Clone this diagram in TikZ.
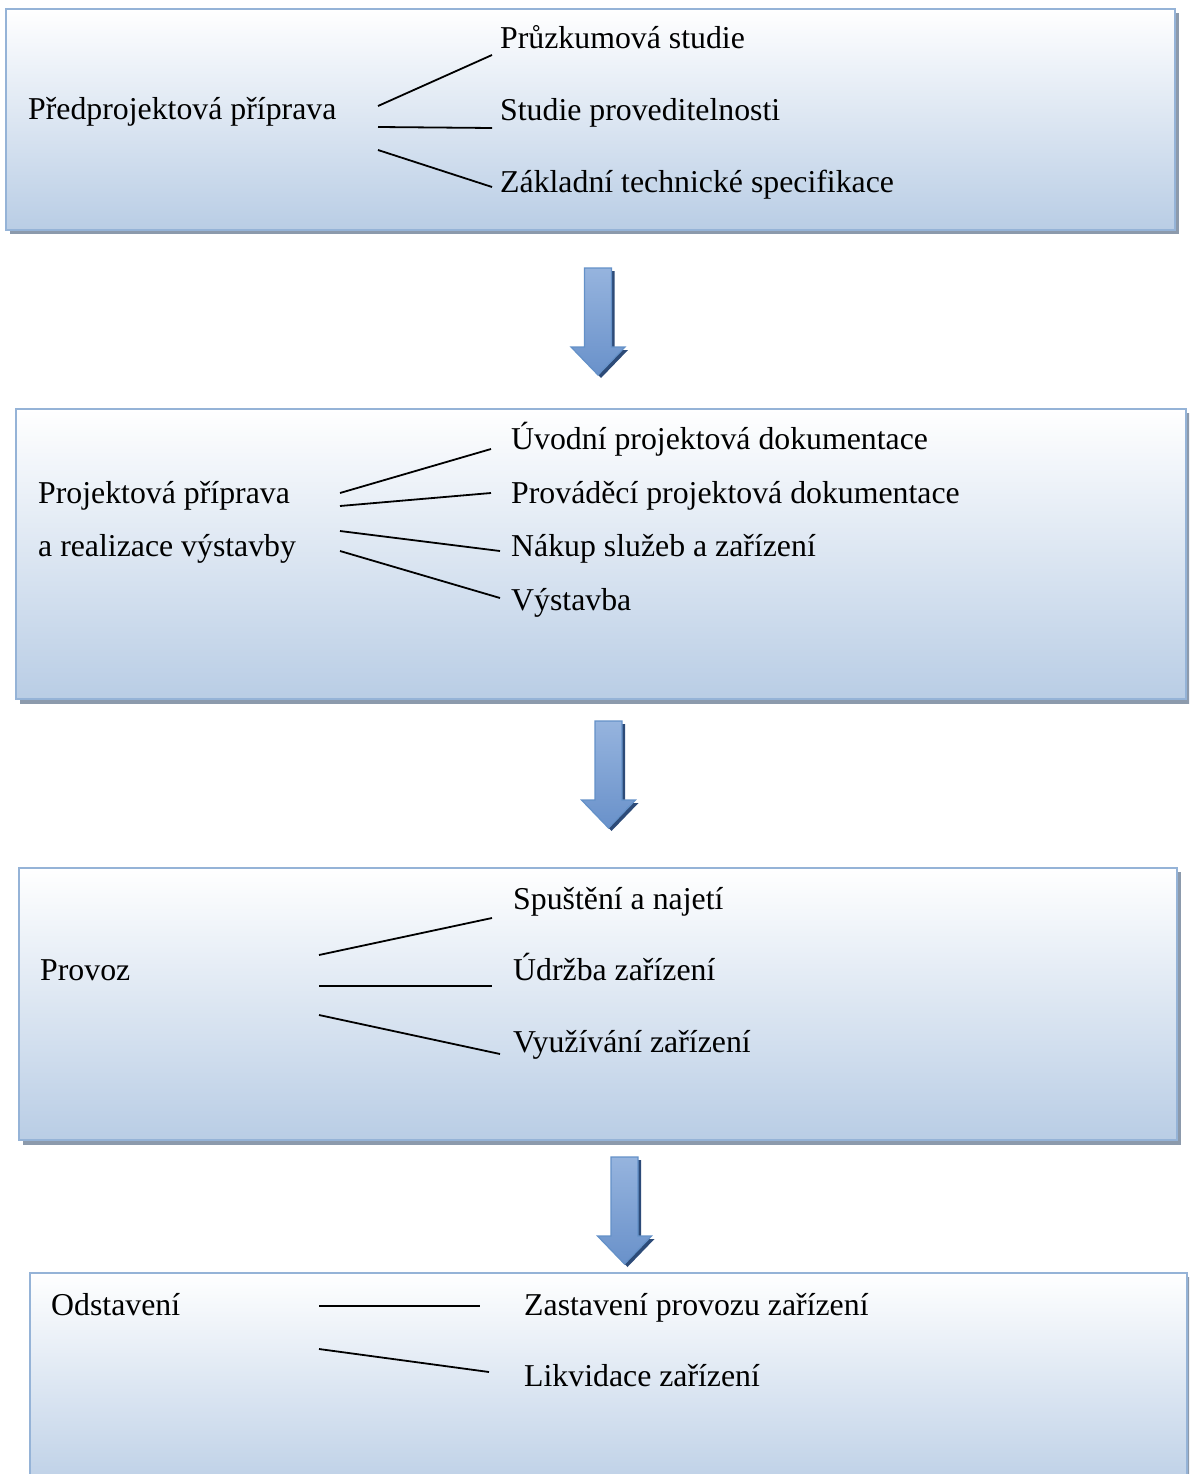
\documentclass[tikz,border=0pt]{standalone}
\usepackage{fontspec}
\setmainfont{Liberation Serif}
\definecolor{boxline}{RGB}{149,179,215}
\definecolor{boxbot}{RGB}{185,205,229}
\definecolor{boxshadow}{RGB}{140,154,172}
\definecolor{arrmid}{RGB}{79,129,189}
\definecolor{arrlight}{RGB}{150,180,222}
\definecolor{arrhead}{RGB}{105,145,202}
\definecolor{arrline}{RGB}{100,145,200}
\definecolor{arrshadow}{RGB}{45,75,120}
\tikzset{
  stagebox/.style={top color=white, bottom color=boxbot, draw=boxline, line width=2.5pt},
  boxshade/.style={fill=boxshadow},
  lbl/.style={anchor=base west, inner sep=0pt, font=\fontsize{31.8}{38}\selectfont},
  link/.style={line width=1.8pt, black},
  blockarrow/.style={top color=arrlight, middle color=arrmid, bottom color=arrhead, draw=arrline, line width=1.2pt, line join=miter},
  arrowshadow/.style={fill=arrshadow},
}
\newcommand\stagearrow[2]{%
  \fill[arrowshadow] (#1-13.5+3,#2+3) -- (#1+13.5+3,#2+3) -- (#1+13.5+3,#2+79+3) -- (#1+27+3,#2+79+3) -- (#1+3,#2+107+3) -- (#1-27+3,#2+79+3) -- (#1-13.5+3,#2+79+3) -- cycle;
  \path[blockarrow] (#1-13.5,#2) -- (#1+13.5,#2) -- (#1+13.5,#2+79) -- (#1+27,#2+79) -- (#1,#2+107) -- (#1-27,#2+79) -- (#1-13.5,#2+79) -- cycle;
}
\begin{document}
\begin{tikzpicture}[x=1pt,y=-1pt]
\useasboundingbox (0,0) rectangle (1189,1474);
\clip (0,0) rectangle (1189,1474);

% shadows of boxes
\fill[boxshade] (10,13) rectangle (1179,234);
\fill[boxshade] (20,413) rectangle (1190,704);
\fill[boxshade] (23,872) rectangle (1181,1145);
\fill[boxshade] (34,1277) rectangle (1191,1510);

% boxes
\path[stagebox] (6,9) rectangle (1175,230);
\path[stagebox] (16,409) rectangle (1186,699);
\path[stagebox] (19,868) rectangle (1177,1140);
\path[stagebox] (30,1273) rectangle (1187,1500);

% arrows
\stagearrow{598}{268}
\stagearrow{608.5}{721}
\stagearrow{624.5}{1157}

% box 1
\node[lbl] (p1) at (28,120) {Předprojektová příprava};
\node[lbl] (p1a) at (500,49) {Průzkumová studie};
\node[lbl] (p1b) at (500,121) {Studie proveditelnosti};
\node[lbl] (p1c) at (500,193) {Základní technické specifikace};
\coordinate (l1s1) at (378,106); \coordinate (l1e1) at (492,55);
\coordinate (l1s2) at (378,127); \coordinate (l1e2) at (492,128);
\coordinate (l1s3) at (378,150); \coordinate (l1e3) at (492,187);
\draw[link] (l1s1) -- (l1e1);
\draw[link] (l1s2) -- (l1e2);
\draw[link] (l1s3) -- (l1e3);

% box 2
\node[lbl] (p2) at (38,503) {Projektová příprava};
\node[lbl] (p2x) at (38,556) {a realizace výstavby};
\node[lbl] (p2a) at (511,449) {Úvodní projektová dokumentace};
\node[lbl] (p2b) at (511,503) {Prováděcí projektová dokumentace};
\node[lbl] (p2c) at (511,556) {Nákup služeb a zařízení};
\node[lbl] (p2d) at (511,610) {Výstavba};
\coordinate (l2s1) at (340,493); \coordinate (l2e1) at (491,449);
\coordinate (l2s2) at (340,506); \coordinate (l2e2) at (491,493);
\coordinate (l2s3) at (340,531); \coordinate (l2e3) at (500,551);
\coordinate (l2s4) at (340,551); \coordinate (l2e4) at (500,598);
\draw[link] (l2s1) -- (l2e1);
\draw[link] (l2s2) -- (l2e2);
\draw[link] (l2s3) -- (l2e3);
\draw[link] (l2s4) -- (l2e4);

% box 3
\node[lbl] (p3) at (40,980) {Provoz};
\node[lbl] (p3a) at (513,909) {Spuštění a najetí};
\node[lbl] (p3b) at (513,980) {Údržba zařízení};
\node[lbl] (p3c) at (513,1052) {Využívání zařízení};
\coordinate (l3s1) at (319,955); \coordinate (l3e1) at (492,918);
\coordinate (l3s2) at (319,986); \coordinate (l3e2) at (492,986);
\coordinate (l3s3) at (319,1015); \coordinate (l3e3) at (500,1054);
\draw[link] (l3s1) -- (l3e1);
\draw[link] (l3s2) -- (l3e2);
\draw[link] (l3s3) -- (l3e3);

% box 4
\node[lbl] (p4) at (51,1315) {Odstavení};
\node[lbl] (p4a) at (524,1315) {Zastavení provozu zařízení};
\node[lbl] (p4b) at (524,1386) {Likvidace zařízení};
\coordinate (l4s1) at (319,1306); \coordinate (l4e1) at (480,1306);
\coordinate (l4s2) at (319,1349); \coordinate (l4e2) at (489,1372);
\draw[link] (l4s1) -- (l4e1);
\draw[link] (l4s2) -- (l4e2);
\end{tikzpicture}
\end{document}
